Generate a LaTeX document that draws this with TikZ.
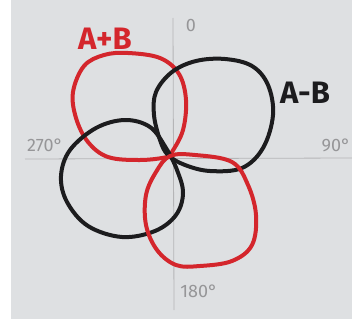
\documentclass[tikz,border=0pt]{standalone}
\usepackage{fontspec}
\setmainfont{Fira Sans}
\definecolor{paper}{RGB}{222,224,226}
\definecolor{inkred}{RGB}{212,38,44}
\definecolor{inkblack}{RGB}{28,28,30}
\definecolor{pencil}{RGB}{150,150,152}
\tikzset{
  lobe/.style={line width=4pt, line join=round},
  redlobe/.style={lobe, draw=inkred},
  blacklobe/.style={lobe, draw=inkblack},
  axis/.style={draw=pencil!70, line width=0.8pt},
  pen/.style={text=pencil, font=\fontsize{18}{18}\selectfont},
  bigred/.style={text=inkred, font=\bfseries\fontsize{31}{31}\selectfont},
  bigblack/.style={text=inkblack, font=\bfseries\fontsize{31}{31}\selectfont}
}
\begin{document}
\begin{tikzpicture}[x=1pt,y=-1pt]
\useasboundingbox (0,0) rectangle (352,321);
\fill[white] (0,0) rectangle (352,321);
\fill[paper] (11,0) rectangle (352,319);
% axes
\coordinate (top) at (173,18);
\coordinate (bot) at (174,310);
\coordinate (left) at (25,159);
\coordinate (right) at (352,158);
\draw[axis] (top) -- (bot);
\draw[axis] (left) -- (right);
% labels
\node[pen] (l0) at (191,25) {0};
\node[pen] (l270) at (45,145) {270°};
\node[pen] (l90) at (336,145) {90°};
\node[pen] (l180) at (199,291) {180°};
\node[bigred] (lab1) at (105,39) {A+B};
\node[bigblack] (lab2) at (305,93) {A-B};
% red upper-left lobe
\draw[redlobe] plot[smooth cycle, tension=0.6] coordinates {
 (128,53) (160,58) (179,74) (186,100) (183,130) (172,152) (167,157)
 (140,160) (108,157) (88,142) (76,118) (73,92) (84,66) (104,55)};
% black upper-right lobe
\draw[blacklobe] plot[smooth cycle, tension=0.6] coordinates {
 (225,59) (252,66) (268,85) (273,115) (263,148) (242,168) (210,171)
 (185,165) (168,155) (160,140) (154,115) (156,92) (172,72) (196,61)};
% black lower-left lobe
\draw[blacklobe] plot[smooth cycle, tension=0.6] coordinates {
 (125,120) (150,127) (166,148) (177,170) (183,193) (176,215) (155,231)
 (122,237) (88,226) (67,202) (61,176) (70,150) (96,128)};
% red lower-right lobe
\draw[redlobe] plot[smooth cycle, tension=0.6] coordinates {
 (170,156) (195,155) (232,162) (248,185) (256,215) (252,245) (232,261)
 (200,266) (176,265) (157,250) (146,225) (146,195) (156,172)};
\end{tikzpicture}
\end{document}
